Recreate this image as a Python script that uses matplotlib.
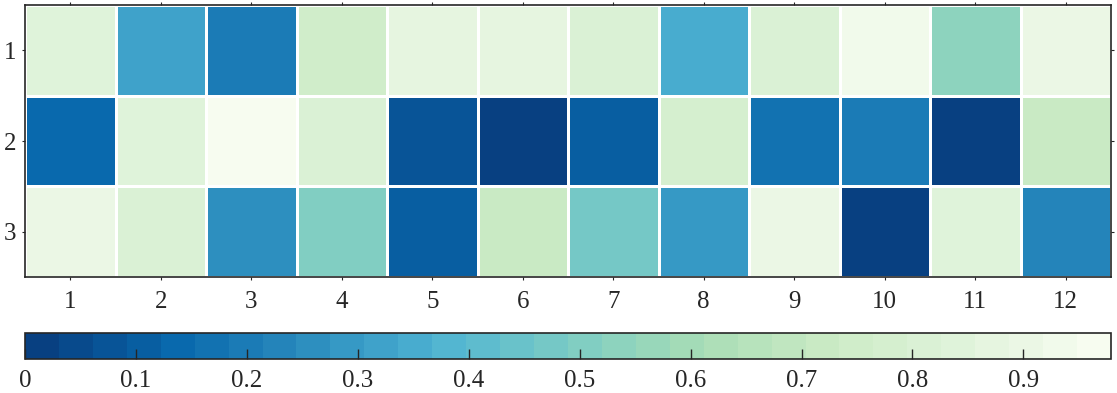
import numpy as np
import matplotlib
matplotlib.use('Agg')
import matplotlib.pyplot as plt
from matplotlib.colors import ListedColormap

plt.rcParams['font.family'] = ['Liberation Serif', 'DejaVu Serif']

row_labels = ['1', '2', '3']
col_labels = [str(i) for i in range(1, 13)]

row1 = [0.85, 0.31, 0.20, 0.76, 0.88, 0.86, 0.80, 0.36, 0.81, 0.93, 0.55, 0.90]
row2 = [0.15, 0.85, 0.96, 0.80, 0.09, 0.01, 0.10, 0.78, 0.17, 0.20, 0.02, 0.72]
row3 = [0.89, 0.82, 0.26, 0.52, 0.11, 0.72, 0.48, 0.30, 0.89, 0.03, 0.85, 0.22]

cb_ticks = [0, 0.1, 0.2, 0.3, 0.4, 0.5, 0.6, 0.7, 0.8, 0.9]

vmin, vmax = 0.0, 0.979
nlev = 32
base = plt.get_cmap('GnBu_r')
cmap = ListedColormap(base(np.linspace(0, 1, nlev)))
norm = plt.Normalize(vmin, vmax)

data = np.array([row1, row2, row3])

fig = plt.figure(figsize=(11.17, 3.93), dpi=100)
W, H = 1117, 393
ax = fig.add_axes([25 / W, 1 - 277 / H, (1111 - 25) / W, (277 - 5) / H])
mesh = ax.pcolormesh(np.arange(13) + 0.5, np.arange(4) + 0.5, data, cmap=cmap, norm=norm,
                     edgecolor='white', linewidth=1.0)
ax.set_xlim(0.5, 12.5)
ax.set_ylim(3.5, 0.5)
ax.set_xticks(range(1, 13))
ax.set_xticklabels(col_labels)
ax.set_yticks(range(1, 4))
ax.set_yticklabels(row_labels)
ax.tick_params(direction='out', length=2.2, width=0.8, colors='#262626', labelsize=18,
               top=True, right=True, labeltop=False, labelright=False)
ax.tick_params(axis='x', pad=8)
ax.tick_params(axis='y', pad=4)
for s in ax.spines.values():
    s.set_linewidth(1.2)
    s.set_color('#262626')

cax = fig.add_axes([25 / W, 1 - 359 / H, (1111 - 25) / W, (359 - 333) / H])
cb = fig.colorbar(mesh, cax=cax, orientation='horizontal')
cb.set_ticks(cb_ticks)
cb.set_ticklabels(['0'] + [f'{t:.1f}' for t in cb_ticks[1:]])
cax.tick_params(direction='in', length=7, width=1.0, colors='#262626', labelsize=18, pad=8)
cb.outline.set_linewidth(1.2)
cb.outline.set_edgecolor('#262626')

fig.savefig('out.png', dpi=100)
